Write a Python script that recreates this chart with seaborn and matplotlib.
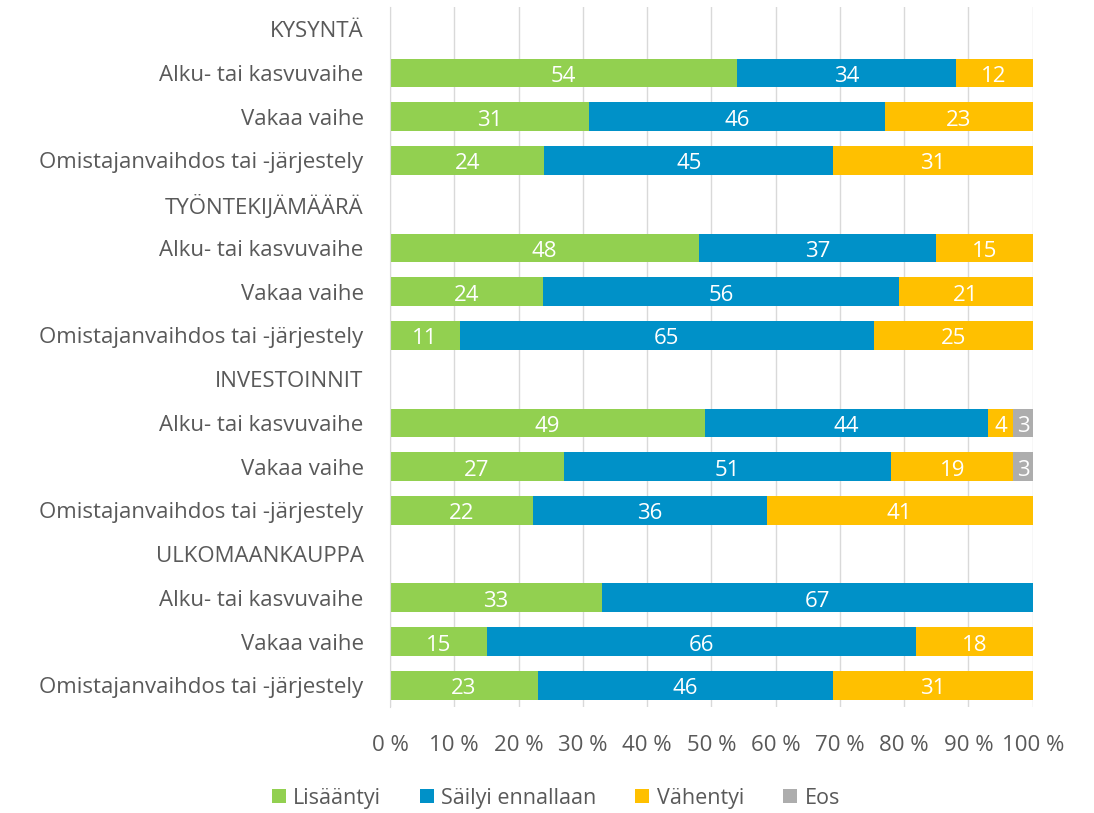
import pandas as pd
import seaborn as sns
import matplotlib.pyplot as plt
from matplotlib.patches import Patch

# ryhmät ja rivit
groups = ["KYSYNTÄ", "TYÖNTEKIJÄMÄÄRÄ", "INVESTOINNIT", "ULKOMAANKAUPPA"]
phases = ["Alku- tai kasvuvaihe", "Vakaa vaihe", "Omistajanvaihdos tai -järjestely"]
series = ["Lisääntyi", "Säilyi ennallaan", "Vähentyi", "Eos"]
colors = ["#92D050", "#0091C8", "#FFC000", "#ADADAD"]

# arvot (%) ryhmittäin, järjestys: phases
lisaantyi = [54, 31, 24, 48, 24, 11, 49, 27, 22, 33, 15, 23]
sailyi = [34, 46, 45, 37, 56, 65, 44, 51, 36, 67, 66, 46]
vahentyi = [12, 23, 31, 15, 21, 25, 4, 19, 41, 0, 18, 31]
eos = [0, 0, 0, 0, 0, 0, 3, 3, 0, 0, 0, 0]

# rivit: otsikko + kolme vaihetta
rows, labels = [], []
vals = {s: [] for s in series}
k = 0
for g in groups:
    rows.append(g)
    labels.append(g)
    for s in series:
        vals[s].append(0)
    for p in phases:
        rows.append(g + "|" + p)
        labels.append(p)
        for s, arr in zip(series, [lisaantyi, sailyi, vahentyi, eos]):
            vals[s].append(arr[k])
        k += 1

df = pd.DataFrame(vals)
df["row"] = rows
tot = df[series].sum(axis=1).replace(0, 1)
cum = df[series].div(tot, axis=0).mul(100).cumsum(axis=1)

plt.rcParams["font.family"] = ["Open Sans", "DejaVu Sans"]
fig, ax = plt.subplots(figsize=(10.94, 8.13), dpi=100)
fig.subplots_adjust(left=0.3565, right=0.944, top=0.991, bottom=0.13)

# piirretään kumulatiiviset palkit isoimmasta pienimpään
for s, c in reversed(list(zip(series, colors))):
    d = pd.DataFrame({"row": rows, "x": cum[s]})
    sns.barplot(data=d, y="row", x="x", color=c, orient="h", width=0.66,
                saturation=1, ax=ax, order=rows, errorbar=None)

# arvotekstit
for i in range(len(rows)):
    left = 0
    for s in series:
        v = df.loc[i, s]
        right = cum.loc[i, s]
        if v > 0:
            ax.text((left + right) / 2, i + 0.08, str(v), color="white", ha="center",
                    va="center", fontsize=16)
        left = right

ax.set_xlim(0, 100)
ax.set_xticks(range(0, 101, 10))
ax.set_xticklabels([f"{t} %" for t in range(0, 101, 10)])
ax.set_yticks(range(len(rows)))
ax.set_yticklabels(labels)
ax.set_xlabel("")
ax.set_ylabel("")
ax.tick_params(axis="both", colors="#595959", labelsize=16, length=0)
ax.tick_params(axis="y", pad=19)
ax.tick_params(axis="x", pad=20)
ax.grid(axis="x", color="#D9D9D9", linewidth=1)
ax.set_axisbelow(True)
for sp in ["top", "right", "bottom"]:
    ax.spines[sp].set_visible(False)
ax.spines["left"].set_color("#D9D9D9")

handles = [Patch(facecolor=c, label=s) for s, c in zip(series, colors)]
fig.legend(handles=handles, loc="center", bbox_to_anchor=(0.508, 0.018), ncol=4,
           frameon=False, fontsize=15.5, labelcolor="#595959", handlelength=0.65,
           handleheight=0.65, handletextpad=0.35, columnspacing=1.8)

fig.savefig("out.png", dpi=100)
